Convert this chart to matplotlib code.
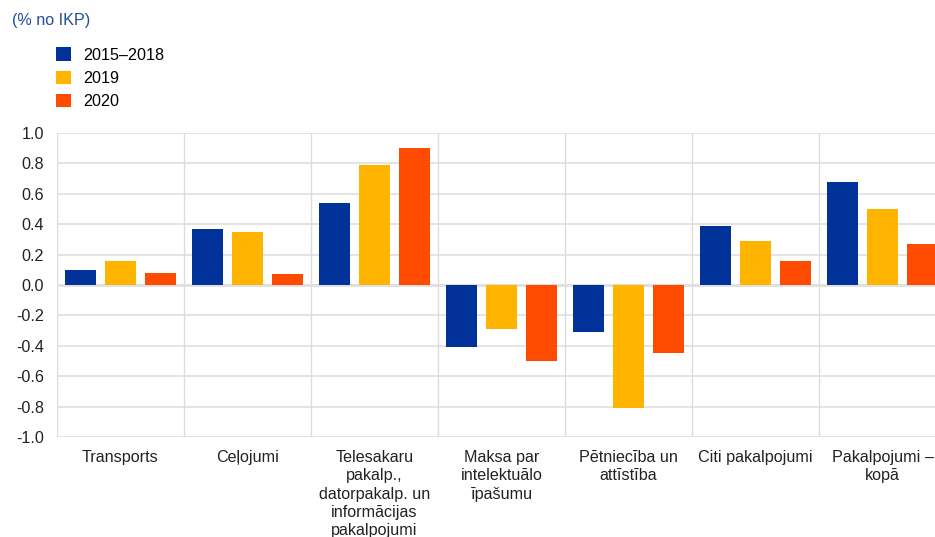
import matplotlib
matplotlib.use("Agg")
import matplotlib.pyplot as plt
from matplotlib.patches import Patch
import numpy as np

plt.rcParams['font.family'] = ['Liberation Sans', 'DejaVu Sans']

categories = [
    "Transports",
    "Ceļojumi",
    "Telesakaru\npakalp.,\ndatorpakalp. un\ninformācijas\npakalpojumi",
    "Maksa par\nintelektuālo\nīpašumu",
    "Pētniecība un\nattīstība",
    "Citi pakalpojumi",
    "Pakalpojumi –\nkopā",
]
series_labels = ["2015–2018", "2019", "2020"]
values_2015_2018 = [0.10, 0.37, 0.54, -0.41, -0.31, 0.39, 0.68]
values_2019 = [0.16, 0.35, 0.79, -0.29, -0.81, 0.29, 0.50]
values_2020 = [0.08, 0.07, 0.90, -0.50, -0.45, 0.16, 0.27]
yticks = [1.0, 0.8, 0.6, 0.4, 0.2, 0.0, -0.2, -0.4, -0.6, -0.8, -1.0]

colors = ["#003299", "#FFB400", "#FF4B00"]
grid_c = "#DCDCDC"
fs = 11.6

W, H = 935, 537
fig = plt.figure(figsize=(W / 100, H / 100), dpi=100)
# axes extend slightly past the right edge of the figure
ax = fig.add_axes([57 / W, 1 - 437 / H, (946 - 57) / W, (437 - 133) / H])

x = np.arange(len(categories))
offsets = [-0.315, 0.0, 0.315]
width = 0.25
for vals, off, c, lab in zip([values_2015_2018, values_2019, values_2020], offsets, colors, series_labels):
    ax.bar(x + off, vals, width=width, color=c, label=lab, zorder=3)

ax.set_xlim(-0.5, len(categories) - 0.5)
ax.set_ylim(-1.0, 1.0)
ax.set_yticks(yticks)
ax.set_yticklabels([f"{v:.1f}" for v in yticks], fontsize=fs, color="#222222")
ax.set_xticks(x)
ax.set_xticklabels(categories, fontsize=fs, color="#222222", linespacing=1.27, va="top")
ax.tick_params(axis="both", length=0)
ax.tick_params(axis="y", pad=9.5)
ax.tick_params(axis="x", pad=9.5)

for yv in yticks:
    ax.axhline(yv, color=grid_c, lw=1.1, zorder=1)
for xv in np.arange(-0.5, len(categories), 1.0):
    ax.axvline(xv, color=grid_c, lw=1.0, zorder=1)
ax.axhline(0, color="#E0E0E0", lw=2.0, zorder=2)
for s in ax.spines.values():
    s.set_visible(False)

fig.text(12 / W, 1 - 21 / H, "(% no IKP)", fontsize=fs, color="#1F4E9E", va="center", ha="left")

handles = [Patch(facecolor=c, edgecolor="none") for c in colors]
fig.legend(handles, series_labels, loc="upper left", bbox_to_anchor=(50 / W, 1 - 41 / H),
           frameon=False, fontsize=fs, handlelength=0.9, handleheight=0.9,
           handletextpad=0.75, labelspacing=0.5, borderaxespad=0)

fig.savefig("out.png", dpi=100)
